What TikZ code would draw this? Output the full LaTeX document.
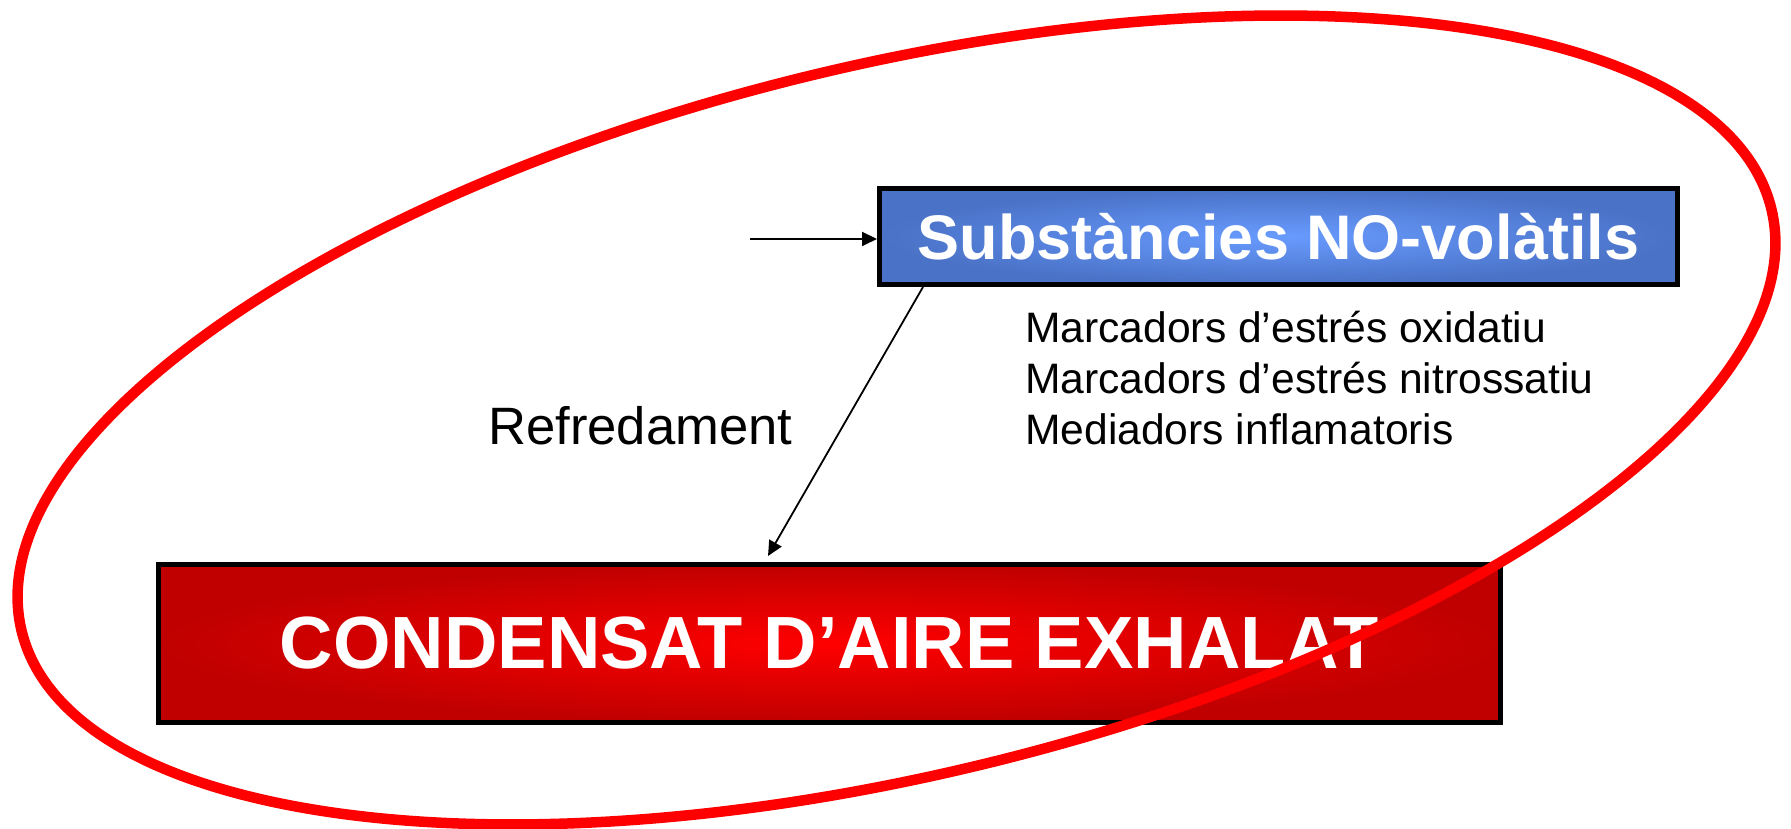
\documentclass[tikz,border=0pt]{standalone}
\usepackage{fontspec}
\setmainfont{Liberation Sans}
\usetikzlibrary{arrows.meta,calc}
\definecolor{blueIn}{RGB}{104,155,255}
\definecolor{blueOut}{RGB}{74,114,198}
\definecolor{redIn}{RGB}{255,0,0}
\definecolor{redOut}{RGB}{192,0,0}
\definecolor{ringred}{RGB}{255,0,0}
\begin{document}
\begin{tikzpicture}[x=1pt,y=1pt,
  bluebox/.style={draw=black,line width=5pt,inner sep=0pt,minimum width=798pt,minimum height=96pt,
    inner color=blueIn,outer color=blueOut,text=white,font=\fontsize{63}{70}\selectfont\bfseries},
  redbox/.style={draw=black,line width=5.5pt,inner sep=0pt,minimum width=1342pt,minimum height=158pt,
    inner color=redIn,outer color=redOut,text=white,font=\fontsize{74}{80}\selectfont\bfseries},
  listtext/.style={anchor=base west,inner sep=0pt,font=\fontsize{42.6}{50}\selectfont},
  labeltext/.style={anchor=base west,inner sep=0pt,font=\fontsize{52.6}{60}\selectfont},
  conn/.style={line width=1.8pt,-{Triangle[length=15pt,width=14pt]}},
  ring/.style={draw=ringred,line width=10.5pt}
]
\useasboundingbox (0,0) rectangle (1791,829);
\fill[white] (0,0) rectangle (1791,829);

\node[bluebox] (blue) at (1278.5,592.5) {Substàncies NO-volàtils};
\node[redbox] (red) at (829.5,185.5) {CONDENSAT D’AIRE EXHALAT};

\node[listtext] (m1) at (1025,486) {Marcadors d’estrés oxidatiu};
\node[listtext] (m2) at (1025,435) {Marcadors d’estrés nitrossatiu};
\node[listtext] (m3) at (1025,384) {Mediadors inflamatoris};
\node[labeltext] (refr) at (488,384) {Refredament};

\coordinate (instart) at (750,590);
\coordinate (coolend) at (768,273);
\draw[conn] (instart) -- (instart -| blue.west);
\draw[conn] ($(blue.south west)+(46,0)$) -- (coolend);

\draw[ring,rotate around={13.55:(896.5,409)}] (896.5,409) ellipse [x radius=900, y radius=355];
\end{tikzpicture}
\end{document}
